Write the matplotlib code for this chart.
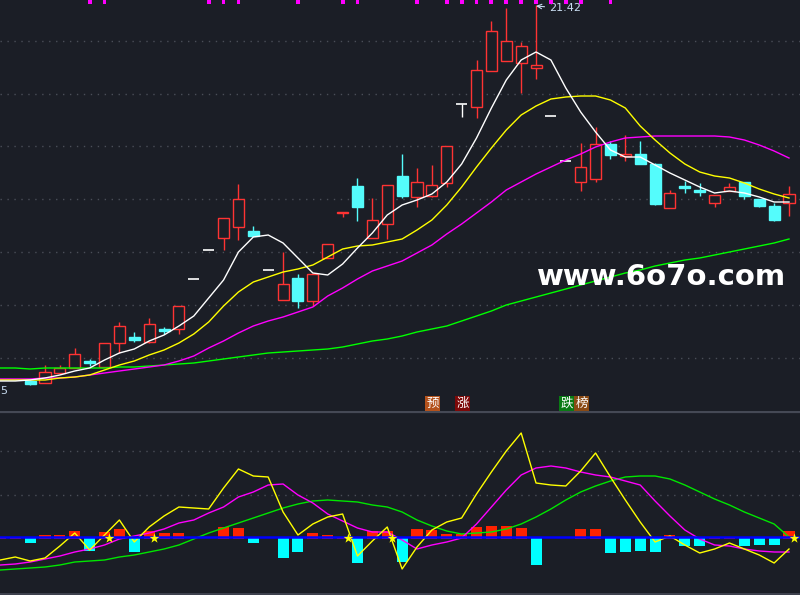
import matplotlib
matplotlib.use('Agg')
import matplotlib.pyplot as plt
from matplotlib.patches import Rectangle

BG = '#1b1e26'
UP = '#ff3333'
DN = '#54fcfc'
GRID = '#4a4e58'

# ---------------- data ----------------
candle_idx = list(range(-1, 51))
opens = [13.90, 13.86, 14.06, 14.16, 14.30, 14.18, 14.66, 14.78, 14.68, 14.94,
         14.94, 15.94, 16.52, 16.76, 16.98, 16.90, 16.12, 15.52, 15.96, 15.50,
         16.36, 17.26, 17.80, 16.76, 17.04, 18.00, 17.58, 17.60, 17.86, 19.44,
         19.38, 20.10, 20.30, 20.26, 20.16, 19.20, 18.30, 17.88, 17.94, 18.64,
         18.40, 18.44, 18.24, 17.36, 17.80, 17.72, 17.46, 17.70, 17.88, 17.54,
         17.40, 17.46]
highs = [13.92, 14.22, 14.22, 14.56, 14.34, 14.66, 15.08, 14.88, 15.16, 14.98,
         15.40, 15.94, 16.52, 17.16, 17.84, 17.00, 16.12, 16.48, 16.04, 16.04,
         16.64, 17.28, 17.96, 17.56, 17.82, 18.44, 18.16, 18.22, 18.60, 19.44,
         20.32, 21.10, 21.36, 20.68, 21.42, 19.20, 18.30, 18.66, 18.98, 18.70,
         18.82, 18.70, 18.26, 17.72, 17.90, 17.86, 17.62, 17.86, 17.88, 17.54,
         17.46, 17.80]
lows = [13.82, 13.86, 14.04, 14.16, 14.20, 14.18, 14.46, 14.68, 14.66, 14.84,
        14.84, 15.94, 16.52, 16.52, 16.72, 16.80, 16.12, 15.52, 15.36, 15.40,
        16.36, 17.18, 17.10, 16.76, 16.74, 17.56, 17.38, 17.58, 17.78, 19.18,
        19.16, 20.10, 20.30, 19.66, 19.94, 19.20, 18.30, 17.70, 17.88, 18.34,
        18.30, 18.24, 17.42, 17.36, 17.66, 17.60, 17.38, 17.70, 17.54, 17.38,
        17.10, 17.20]
closes = [13.84, 14.08, 14.16, 14.44, 14.26, 14.66, 15.00, 14.72, 15.04, 14.90,
          15.40, 15.94, 16.52, 17.16, 17.54, 16.80, 16.12, 15.84, 15.50, 16.04,
          16.64, 17.28, 17.38, 17.12, 17.82, 17.60, 17.88, 17.82, 18.60, 19.44,
          20.12, 20.90, 20.70, 20.60, 20.22, 19.20, 18.30, 18.18, 18.64, 18.42,
          18.44, 18.24, 17.44, 17.66, 17.76, 17.68, 17.62, 17.78, 17.60, 17.40,
          17.12, 17.64]

line_idx = list(range(-3, 51))
ma5 = [13.90, 13.90, 13.92, 13.96, 14.02, 14.10, 14.16, 14.32, 14.46, 14.54,
       14.70, 14.82, 15.00, 15.20, 15.56, 15.92, 16.48, 16.78, 16.82, 16.66,
       16.36, 16.06, 16.02, 16.24, 16.56, 16.86, 17.22, 17.42, 17.52, 17.64,
       17.88, 18.24, 18.76, 19.36, 19.92, 20.32, 20.48, 20.32, 19.76, 19.28,
       18.88, 18.52, 18.38, 18.38, 18.22, 18.06, 17.92, 17.78, 17.66, 17.70,
       17.66, 17.58, 17.48, 17.48]
ma10 = [13.92, 13.92, 13.92, 13.92, 13.96, 13.98, 14.02, 14.12, 14.22, 14.30,
        14.42, 14.52, 14.66, 14.84, 15.08, 15.40, 15.68, 15.88, 15.98, 16.08,
        16.14, 16.22, 16.38, 16.54, 16.60, 16.62, 16.68, 16.74, 16.92, 17.12,
        17.42, 17.78, 18.18, 18.56, 18.92, 19.22, 19.40, 19.54, 19.58, 19.60,
        19.60, 19.52, 19.36, 19.00, 18.72, 18.46, 18.24, 18.08, 18.00, 17.96,
        17.86, 17.74, 17.64, 17.56]
ma20 = [13.94, 13.94, 13.94, 13.96, 13.96, 13.98, 14.02, 14.06, 14.10, 14.14,
        14.18, 14.22, 14.30, 14.40, 14.56, 14.70, 14.86, 15.00, 15.10, 15.18,
        15.28, 15.38, 15.60, 15.76, 15.94, 16.10, 16.20, 16.30, 16.46, 16.62,
        16.84, 17.04, 17.26, 17.48, 17.72, 17.88, 18.04, 18.18, 18.32, 18.44,
        18.58, 18.68, 18.76, 18.78, 18.80, 18.80, 18.80, 18.80, 18.80, 18.78,
        18.72, 18.62, 18.50, 18.36]
ma60 = [14.16, 14.16, 14.14, 14.16, 14.16, 14.16, 14.16, 14.16, 14.18, 14.18,
        14.20, 14.22, 14.24, 14.26, 14.30, 14.34, 14.38, 14.42, 14.46, 14.48,
        14.50, 14.52, 14.54, 14.58, 14.64, 14.70, 14.74, 14.80, 14.88, 14.94,
        15.00, 15.10, 15.20, 15.30, 15.42, 15.50, 15.58, 15.66, 15.74, 15.82,
        15.90, 15.98, 16.06, 16.12, 16.20, 16.26, 16.32, 16.36, 16.42, 16.48,
        16.54, 16.60, 16.66, 16.74]

signal_idx = [3, 4, 11, 12, 13, 17, 20, 21, 25, 27, 28, 29, 30, 31, 32, 33,
              34, 35, 36, 38]
price_grid = [20.70, 19.64, 18.60, 17.54, 16.48, 15.42, 14.36]
high_label = '21.42'
high_idx = 33
low_label = '5'

# lower indicator panel
hist = [0.05, 0.02, -0.4, 0.2, 0.2, 0.6, -1.2, 0.5, 0.8, -1.3,
        0.6, 0.4, 0.4, 0.0, 0.0, 1.0, 0.9, -0.4, 0.0, -1.9,
        -1.3, 0.4, 0.2, 0.05, -2.4, 0.6, 0.6, -2.3, 0.8, 0.7,
        0.3, 0.3, 1.0, 1.1, 1.1, 0.9, -2.6, 0.0, 0.0, 0.8,
        0.8, -1.4, -1.3, -1.2, -1.3, 0.2, -0.7, -0.7, 0.05, 0.05,
        -0.7, -0.6, -0.6, 0.6]
ind_yellow = [-2.3, -2.0, -2.4, -2.1, -0.9, 0.4, -1.3, 0.2, 1.7, -0.5,
              1.0, 2.1, 3.0, 2.9, 2.8, 4.9, 6.8, 6.1, 6.0, 2.5,
              0.2, 1.3, 2.0, 2.3, -1.9, -0.4, 1.0, -3.2, -1.0, 0.7,
              1.5, 1.9, 4.3, 6.5, 8.6, 10.4, 5.4, 5.2, 5.1, 6.6,
              8.4, 6.0, 3.7, 1.5, -0.5, 0.1, -0.8, -1.6, -1.2, -0.6,
              -1.2, -1.8, -2.6, -1.2]
ind_magenta = [-2.8, -2.7, -2.5, -2.2, -1.9, -1.5, -1.2, -0.8, -0.2, 0.1,
               0.4, 0.8, 1.4, 1.7, 2.4, 3.0, 4.0, 4.5, 5.2, 5.3,
               4.2, 3.4, 2.3, 1.6, 0.9, 0.5, 0.5, -0.3, -1.2, -0.8,
               -0.5, -0.1, 1.3, 3.0, 4.7, 6.2, 6.9, 7.1, 6.9, 6.5,
               6.2, 6.0, 5.6, 5.2, 3.6, 2.1, 0.7, -0.2, -0.8, -0.9,
               -1.2, -1.4, -1.5, -1.5]
ind_green = [-3.3, -3.2, -3.1, -3.0, -2.8, -2.5, -2.4, -2.3, -2.0, -1.8,
             -1.5, -1.2, -0.8, -0.2, 0.4, 0.9, 1.4, 1.9, 2.4, 2.9,
             3.3, 3.6, 3.7, 3.6, 3.5, 3.2, 3.0, 2.5, 1.7, 1.1,
             0.6, 0.3, 0.4, 0.5, 0.8, 1.3, 2.0, 2.8, 3.7, 4.5,
             5.1, 5.6, 6.0, 6.1, 6.1, 5.8, 5.2, 4.5, 3.8, 3.2,
             2.5, 1.9, 1.3, 0.0]
star_idx = [4, 7, 20, 23, 50]
ind_grid = [8.6, 4.2]

tags = [('预', 26, '#b4521c'), ('涨', 28, '#7c0808'),
        ('跌', 35, '#0a7a14'), ('榜', 36, '#8a4a14')]
watermark = 'www.6o7o.com'

# ---------------- figure ----------------
fig = plt.figure(figsize=(8.0, 5.95), dpi=100, facecolor=BG)
X0 = -45 / 14.88
X1 = (800 - 45) / 14.88
ax = fig.add_axes([0, 184 / 595, 1, 411 / 595])
axb = fig.add_axes([0, 0, 1, 184 / 595])
for a in (ax, axb):
    a.set_facecolor(BG)
    a.set_xlim(X0, X1)
    a.set_xticks([])
    a.set_yticks([])
    for s in a.spines.values():
        s.set_visible(False)
ax.set_ylim(13.30, 21.52)
axb.set_ylim(-5.8, 12.6)

for g in price_grid:
    ax.axhline(g, color=GRID, lw=1, ls=(0, (1, 4)), zorder=0)
for g in ind_grid:
    axb.axhline(g, color=GRID, lw=1, ls=(0, (1, 4)), zorder=0)
axb.axhline(12.55, color='#454955', lw=1.6, zorder=1)
axb.axhline(-5.72, color='#454955', lw=1.2, zorder=1)

W = 0.74
for k, o, h, l, c in zip(candle_idx, opens, highs, lows, closes):
    top, bot = max(o, c), min(o, c)
    if c > o:
        ax.vlines(k, top, h, color=UP, lw=1, zorder=2)
        ax.vlines(k, l, bot, color=UP, lw=1, zorder=2)
        ax.add_patch(Rectangle((k - W / 2, bot), W, top - bot, fc=BG,
                               ec=UP, lw=1, zorder=2))
    elif c < o:
        ax.vlines(k, l, h, color=DN, lw=1, zorder=2)
        ax.add_patch(Rectangle((k - W / 2, bot), W, top - bot, fc=DN,
                               ec=DN, lw=1, zorder=2))
    else:
        ax.vlines(k, l, h, color='white', lw=1, zorder=2)
        ax.hlines(o, k - W / 2, k + W / 2, color='white', lw=1.2, zorder=2)

ax.plot(line_idx, ma60, color='#00ff00', lw=1, zorder=3)
ax.plot(line_idx, ma20, color='#ff00ff', lw=1, zorder=3)
ax.plot(line_idx, ma10, color='#ffff00', lw=1, zorder=3)
ax.plot(line_idx, ma5, color='#ffffff', lw=1, zorder=3)

for k in signal_idx:
    ax.add_patch(Rectangle((k - 0.13, 21.445), 0.26, 0.08, fc='#ff00ff',
                           ec='none', zorder=4))

ax.annotate(high_label, xy=(high_idx, highs[candle_idx.index(high_idx)] - 0.02),
            xytext=(high_idx + 0.85, 21.35), color='#c8dcf0', fontsize=8,
            va='center', ha='left',
            arrowprops=dict(arrowstyle='->', color='#c8dcf0', lw=0.8,
                            shrinkA=1, shrinkB=0))
ax.text(X0 + 0.02, 13.70, low_label, color='#c8dcf0', fontsize=8,
        va='center', ha='left')

for t, k, col in tags:
    ax.text(k + 0.05, 13.45, t, color='white', fontsize=9,
            family=['Noto Sans CJK SC', 'DejaVu Sans'], ha='center',
            va='center', zorder=5,
            bbox=dict(boxstyle='square,pad=0.08', fc=col, ec='none'))

ax.text(41.4, 15.98, watermark, color='white', fontsize=21,
        fontweight='bold', ha='center', va='center', zorder=6)

# lower panel
for k, v in zip(line_idx, hist):
    if v > 0:
        axb.bar(k, v + 0.2, bottom=-0.2, width=W, color='#ff2200',
                lw=0, zorder=2)
    elif v < 0:
        axb.bar(k, v - 0.1, bottom=-0.1, width=W, color='#00ffff',
                lw=0, zorder=2)
axb.plot(line_idx, ind_green, color='#00e600', lw=1, zorder=3)
axb.plot(line_idx, ind_magenta, color='#ff00ff', lw=1, zorder=3)
axb.plot(line_idx, ind_yellow, color='#ffff00', lw=1, zorder=3)
axb.axhline(0, color='#0000ff', lw=1.8, zorder=4)
axb.scatter([k + 0.33 for k in star_idx], [-0.1] * len(star_idx),
            marker='*', s=55, color='#ffff00', lw=0, zorder=5)

fig.savefig('out.png', dpi=100, facecolor=BG)
